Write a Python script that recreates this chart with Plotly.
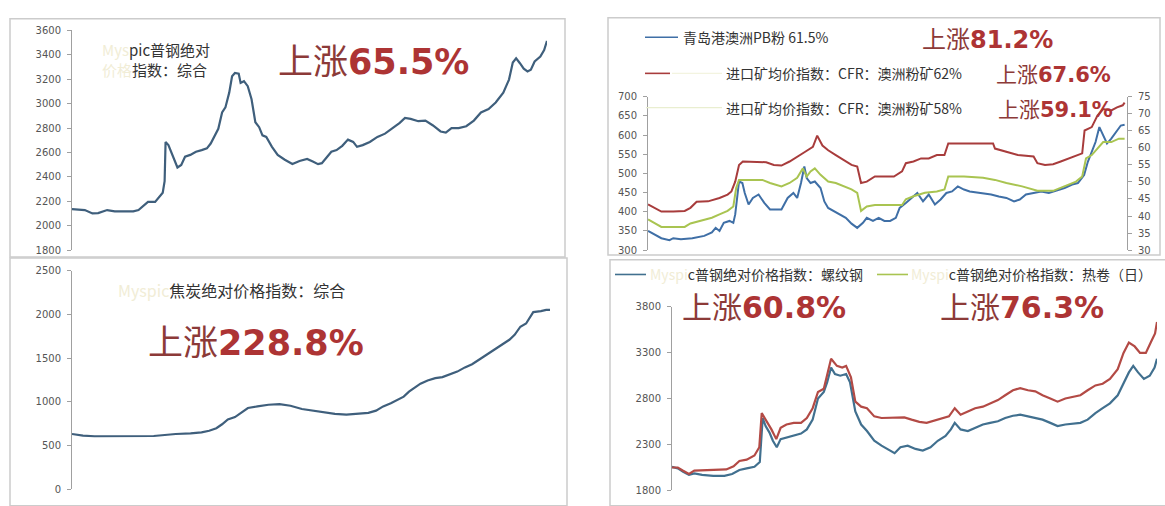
import plotly.graph_objects as go

W, H = 1165, 506

# ---------------- data ----------------
# Panel 1: Myspic 普钢绝对价格指数：综合
p1_t = [0, 2.7, 4.3, 5.5, 7.4, 9.0, 11.3, 12.9, 14.0, 14.8, 16.0, 17.5, 18.3, 19.1, 19.5, 19.7, 20.3, 21.4, 22.2, 23.0,
        23.8, 24.9, 26.1, 27.3, 28.4, 29.2, 30.0, 30.8, 31.6, 32.3, 33.1, 33.7, 34.3, 35.1, 35.5, 36.2, 37.0, 37.8, 38.6, 39.4,
        40.1, 40.9, 42.1, 43.3, 44.8, 46.4, 47.9, 49.5, 50.7, 51.8, 52.6, 53.4, 54.6, 55.7, 56.9, 58.1, 59.2, 60.0, 61.2, 62.7,
        64.3, 65.9, 67.4, 69.0, 70.1, 71.3, 72.9, 74.4, 76.0, 77.6, 78.7, 79.9, 81.4, 83.0, 84.6, 86.1, 87.7, 89.2, 90.8, 92.0,
        92.8, 93.5, 94.3, 95.1, 95.9, 96.6, 97.4, 98.6, 99.4, 100]
p1_v = [2136, 2128, 2100, 2103, 2128, 2117, 2117, 2117, 2128, 2155, 2195, 2195, 2230, 2270, 2364, 2686, 2660, 2552, 2477, 2498,
        2565, 2580, 2606, 2619, 2633, 2673, 2740, 2794, 2928, 2969, 3090, 3224, 3251, 3245, 3170, 3184, 3143, 3036, 2848, 2807,
        2740, 2727, 2646, 2580, 2540, 2506, 2530, 2547, 2525, 2504, 2512, 2547, 2606, 2619, 2654, 2705, 2686, 2646, 2660, 2686,
        2727, 2754, 2794, 2842, 2883, 2875, 2856, 2861, 2821, 2772, 2762, 2799, 2799, 2815, 2861, 2928, 2955, 3009, 3090, 3197,
        3337, 3372, 3331, 3286, 3264, 3278, 3345, 3385, 3439, 3514]

# Panel 2: iron ore
p2_blue_t = [0, 1.2, 2.8, 4.5, 5.3, 6.9, 9.3, 11.8, 13.4, 14.2, 15.0, 15.9, 17.1, 17.9, 18.3, 19.1, 19.8, 20.3, 21.1, 22.0,
             23.2, 24.4, 25.6, 26.8, 28.0, 29.3, 30.5, 31.3, 32.1, 32.8, 33.3, 34.1, 35.0, 36.2, 37.0, 37.8, 39.0, 40.2, 41.5, 42.7,
             43.9, 45.1, 45.9, 47.2, 48.4, 49.6, 50.8, 52.0, 52.8, 54.1, 55.3, 56.5, 57.7, 58.9, 60.2, 61.4, 62.6, 63.8, 65.0, 66.3,
             67.5, 68.7, 70.3, 72.0, 73.6, 75.2, 76.8, 78.0, 79.3, 80.9, 82.5, 84.1, 85.8, 87.4, 89.0, 90.2, 91.5, 92.3, 93.1, 93.9,
             94.7, 95.5, 96.3, 97.2, 98.0, 99.2, 100]
p2_blue_v = [350, 341, 331, 326, 331, 328, 331, 337, 346, 358, 350, 371, 376, 371, 393, 479, 475, 449, 419, 436,
             445, 423, 406, 406, 406, 436, 449, 436, 475, 518, 488, 475, 479, 462, 427, 410, 402, 393, 384, 369,
             358, 371, 384, 376, 384, 376, 376, 384, 410, 423, 436, 449, 427, 445, 419, 432, 449, 453, 466, 458,
             453, 451, 449, 445, 440, 436, 427, 432, 445, 449, 453, 449, 455, 462, 471, 475, 496, 531, 556, 582,
             621, 599, 578, 591, 604, 625, 627]
p2_red_t = [0, 1.2, 2.8, 5.3, 7.7, 8.9, 10.2, 12.6, 15.0, 16.7, 17.5, 18.3, 19.1, 19.9, 21.5, 24.8, 26.4, 28.0, 29.7, 31.3,
            32.9, 34.6, 35.5, 36.6, 37.8, 39.4, 41.1, 42.7, 43.9, 44.7, 45.9, 47.6, 49.2, 51.6, 53.3, 54.1, 55.7, 57.3, 58.9, 60.6,
            62.2, 63.0, 66.3, 70.3, 72.4, 72.8, 75.2, 77.6, 80.9, 81.7, 83.3, 85.0, 86.6, 88.2, 89.8, 91.1, 91.6, 93.1, 94.3, 95.5,
            97.2, 98.4, 99.6, 100]
p2_red_v = [43.4, 42.4, 41.3, 41.3, 41.5, 42.4, 44.2, 44.3, 45.3, 46.3, 47.2, 50.1, 55.0, 56.0, 56.0, 55.8, 55.0, 54.8, 56.0, 57.5,
            58.8, 60.3, 63.6, 60.7, 59.3, 57.9, 56.4, 55.0, 54.5, 49.7, 50.1, 51.6, 51.6, 51.6, 53.1, 55.5, 56.0, 56.9, 56.9, 57.9,
            57.9, 61.3, 61.3, 61.3, 61.3, 59.8, 58.8, 57.9, 57.5, 55.5, 55.0, 55.2, 56.0, 56.9, 57.9, 58.4, 65.1, 66.1, 69.5, 71.4,
            71.0, 71.9, 72.5, 73.3]
p2_green_t = [0, 1.2, 2.8, 5.3, 7.7, 8.9, 11.0, 13.4, 15.0, 16.7, 17.9, 18.5, 19.1, 21.5, 24.0, 25.6, 28.0, 29.7, 31.3, 32.5,
              33.3, 34.1, 35.0, 36.2, 37.8, 39.4, 41.1, 42.7, 43.9, 44.7, 45.9, 47.6, 50.8, 53.3, 54.1, 55.7, 58.1, 60.6, 62.2, 63.0,
              66.3, 70.3, 72.8, 75.2, 78.5, 81.7, 85.0, 87.4, 89.8, 91.1, 91.9, 93.1, 94.3, 95.5, 97.2, 98.8, 100]
p2_green_v = [39.0, 38.0, 36.8, 36.8, 36.8, 37.8, 38.6, 39.5, 40.5, 41.5, 42.8, 48.2, 50.6, 50.6, 50.6, 49.7, 48.7, 49.7, 51.2, 54.0,
              51.6, 53.1, 54.0, 52.1, 50.1, 49.7, 48.7, 47.8, 46.8, 41.5, 42.8, 43.2, 43.2, 43.2, 44.9, 45.8, 46.8, 47.2, 47.8, 51.6,
              51.6, 51.2, 50.6, 49.7, 48.7, 47.4, 47.4, 48.7, 50.1, 51.6, 56.9, 57.9, 59.8, 61.7, 61.7, 62.7, 62.7]

# Panel 3: Myspic 焦炭绝对价格指数：综合
p3_t = [0, 2.3, 4.7, 7.8, 11.6, 15.5, 17.1, 19.4, 21.7, 24.8, 27.1, 28.7, 30.2, 31.4, 32.6, 34.1, 35.7, 36.8, 38.8, 41.1,
        43.4, 45.7, 48.1, 50.4, 52.7, 55.0, 57.4, 59.7, 62.0, 63.6, 65.1, 66.7, 68.2, 69.4, 70.5, 71.7, 72.9, 74.4, 76.0, 77.5,
        79.1, 80.6, 82.2, 83.7, 85.3, 86.8, 88.4, 89.9, 91.5, 92.6, 93.8, 95.0, 95.7, 96.5, 98.1, 99.2, 100]
p3_v = [632, 613, 606, 606, 606, 606, 609, 620, 632, 639, 650, 669, 698, 743, 799, 825, 892, 929, 947, 966,
        973, 955, 918, 899, 873, 862, 854, 862, 873, 899, 947, 984, 1022, 1059, 1115, 1159, 1207, 1244, 1270, 1282,
        1319, 1345, 1393, 1430, 1486, 1542, 1597, 1653, 1709, 1765, 1858, 1895, 1950, 2025, 2036, 2051, 2051]

# Panel 4: 螺纹钢 / 热卷
p4_blue_t = [0, 1.2, 2.3, 3.5, 4.6, 6.2, 8.5, 10.8, 12.4, 13.9, 15.4, 17.0, 18.1, 18.7, 19.3, 20.1, 20.8, 21.6, 22.4, 23.6,
             25.1, 26.6, 27.8, 29.0, 30.1, 31.3, 32.0, 32.8, 33.6, 34.7, 35.9, 36.7, 37.8, 39.0, 40.2, 41.7, 43.2, 44.8, 45.9, 47.1,
             48.6, 50.2, 51.7, 53.3, 54.8, 56.4, 57.5, 58.3, 59.5, 61.0, 62.5, 64.1, 65.6, 67.2, 68.7, 70.3, 71.8, 73.4, 74.9, 76.4,
             78.0, 79.5, 81.1, 82.6, 84.2, 85.7, 87.3, 88.8, 90.3, 91.9, 93.1, 94.2, 95.1, 96.1, 97.3, 98.5, 99.5, 100]
p4_blue_v = [2055, 2038, 2002, 1967, 1984, 1967, 1956, 1956, 1977, 2020, 2038, 2055, 2108, 2587, 2499, 2428, 2339, 2268, 2357, 2374,
             2392, 2417, 2463, 2569, 2800, 2871, 2977, 3137, 3066, 3048, 3066, 2977, 2658, 2516, 2445, 2339, 2286, 2233, 2204, 2268,
             2286, 2250, 2233, 2268, 2339, 2392, 2463, 2534, 2463, 2445, 2481, 2516, 2534, 2552, 2587, 2612, 2623, 2605, 2587, 2569,
             2534, 2499, 2516, 2523, 2534, 2569, 2640, 2694, 2747, 2835, 2960, 3084, 3155, 3084, 3013, 3048, 3137, 3233]
p4_red_t = [0, 1.2, 2.3, 3.5, 4.6, 6.9, 9.3, 11.2, 12.7, 13.9, 15.4, 17.0, 18.0, 18.5, 19.3, 20.5, 21.5, 22.4, 23.6, 25.1,
            26.6, 27.8, 29.0, 30.1, 31.3, 32.0, 32.8, 34.0, 35.1, 35.9, 36.9, 37.8, 39.0, 40.2, 41.7, 43.2, 44.8, 46.3, 47.9, 49.4,
            51.0, 52.5, 54.1, 55.6, 57.1, 58.3, 59.5, 61.0, 62.5, 64.1, 65.6, 67.2, 68.7, 70.3, 71.8, 73.4, 74.9, 76.4, 78.0, 79.5,
            81.1, 82.6, 84.2, 85.7, 87.3, 88.8, 90.3, 91.9, 93.1, 94.2, 95.4, 96.5, 97.7, 98.8, 99.6, 100]
p4_red_v = [2048, 2048, 2013, 1977, 2013, 2020, 2020, 2027, 2062, 2119, 2133, 2179, 2268, 2640, 2569, 2463, 2357, 2481, 2516, 2534,
            2534, 2587, 2694, 2871, 2906, 3048, 3233, 3155, 3137, 3155, 3030, 2765, 2711, 2694, 2605, 2587, 2587, 2587, 2594, 2569,
            2545, 2534, 2559, 2587, 2605, 2694, 2623, 2658, 2694, 2711, 2747, 2782, 2835, 2889, 2913, 2889, 2878, 2835, 2800, 2765,
            2800, 2818, 2835, 2889, 2942, 2960, 3013, 3119, 3296, 3410, 3367, 3296, 3296, 3420, 3509, 3633]

# tick settings
p1_ticks = [1800, 2000, 2200, 2400, 2600, 2800, 3000, 3200, 3400, 3600]
p2_left_ticks = [300, 350, 400, 450, 500, 550, 600, 650, 700]
p2_right_ticks = [30, 35, 40, 45, 50, 55, 60, 65, 70, 75]
p3_ticks = [0, 500, 1000, 1500, 2000, 2500]
p4_ticks = [1800, 2300, 2800, 3300, 3800]

# ---------------- styling ----------------
C_P1 = "#3f5f7c"
C_BLUE = "#3f6fa6"
C_RED = "#a83c3c"
C_GREEN = "#a9c451"
C_P4_BLUE = "#41708f"
C_P4_RED = "#b34a45"
TXT_RED = "#ad3434"
TXT_DARK = "#8c3a38"
CJK = "Noto Sans CJK SC, DejaVu Sans, sans-serif"
NUM = "DejaVu Sans, sans-serif"


def px(x):
    return x / W


def py(y):
    return 1 - y / H


fig = go.Figure()

fig.add_trace(go.Scatter(x=p1_t, y=p1_v, mode="lines", line=dict(color=C_P1, width=2.2), xaxis="x", yaxis="y"))
fig.add_trace(go.Scatter(x=p2_blue_t, y=p2_blue_v, mode="lines", line=dict(color=C_BLUE, width=2), xaxis="x2", yaxis="y2"))
fig.add_trace(go.Scatter(x=p2_green_t, y=p2_green_v, mode="lines", line=dict(color=C_GREEN, width=2), xaxis="x2", yaxis="y5"))
fig.add_trace(go.Scatter(x=p2_red_t, y=p2_red_v, mode="lines", line=dict(color=C_RED, width=2), xaxis="x2", yaxis="y5"))
fig.add_trace(go.Scatter(x=p3_t, y=p3_v, mode="lines", line=dict(color=C_P1, width=2.2), xaxis="x3", yaxis="y3"))
fig.add_trace(go.Scatter(x=p4_blue_t, y=p4_blue_v, mode="lines", line=dict(color=C_P4_BLUE, width=2.2), xaxis="x4", yaxis="y4"))
fig.add_trace(go.Scatter(x=p4_red_t, y=p4_red_v, mode="lines", line=dict(color=C_P4_RED, width=2.2), xaxis="x4", yaxis="y4"))

tickfont = dict(family=NUM, size=10, color="#555555")
yax_common = dict(showgrid=False, zeroline=False, showline=True, linecolor="#a0a0a0", linewidth=1,
                  ticks="outside", ticklen=4, tickcolor="#a0a0a0", tickfont=tickfont, fixedrange=True,
                  ticklabelstandoff=4)
xax_common = dict(visible=False, fixedrange=True)

layout = dict(
    width=W, height=H, margin=dict(l=0, r=0, t=0, b=0),
    paper_bgcolor="white", plot_bgcolor="rgba(0,0,0,0)", showlegend=False,
    xaxis=dict(domain=[px(72), px(547)], range=[0, 100], anchor="y", **xax_common),
    yaxis=dict(domain=[py(250), py(25)], range=[1800, 3600], tickvals=p1_ticks, anchor="x", **yax_common),
    xaxis2=dict(domain=[px(648), px(1127)], range=[0, 100.5], anchor="y2", **xax_common),
    yaxis2=dict(domain=[py(250), py(93)], range=[300, 700], tickvals=p2_left_ticks, anchor="x2", **yax_common),
    yaxis5=dict(range=[30, 75], tickvals=p2_right_ticks, overlaying="y2", side="right", anchor="x2", **yax_common),
    xaxis3=dict(domain=[px(72), px(550)], range=[0, 100], anchor="y3", **xax_common),
    yaxis3=dict(domain=[py(495), py(271)], range=[0, 2500], tickvals=p3_ticks, anchor="x3", **yax_common),
    xaxis4=dict(domain=[px(672), px(1157)], range=[0, 100], anchor="y4", **xax_common),
    yaxis4=dict(domain=[py(496), py(308)], range=[1800, 3800], tickvals=p4_ticks, anchor="x4", **yax_common),
)
fig.update_layout(**layout)

# ---------------- frames ----------------
shapes = []
frame_style = dict(color="#cccccc", width=1.5)
for (x0, y0, x1, y1) in [(10, 13, 565, 257), (608, 12, 1160, 255), (10, 258, 567, 512), (610, 260, 1172, 512)]:
    shapes.append(dict(type="rect", xref="paper", yref="paper", x0=px(x0), x1=px(x1), y0=py(y1), y1=py(y0),
                       line=frame_style, fillcolor="rgba(0,0,0,0)", layer="below"))


# legend key lines
def key(x0, x1, y, color, width=1.6):
    shapes.append(dict(type="line", xref="paper", yref="paper", x0=px(x0), x1=px(x1), y0=py(y), y1=py(y),
                       line=dict(color=color, width=width)))


key(645, 678, 32, C_BLUE)
key(645, 670, 69, C_RED)
key(672, 722, 69, "#f3f4e0", 1.2)
key(646, 722, 104, "#e9eed0", 1.2)
key(615, 646, 275, C_P4_BLUE)
key(877, 908, 275, C_GREEN)
fig.update_layout(shapes=shapes)

# ---------------- texts ----------------
ann = []


def text(x, y, s, size, color="#333333", family=CJK, anchor="left"):
    ann.append(dict(xref="paper", yref="paper", x=px(x), y=py(y), text=s, showarrow=False,
                    xanchor=anchor, yanchor="middle", font=dict(family=family, size=size, color=color)))


FADE = "#f1edd6"


def big(x, y, pct, size):
    s = ('<span style="color:%s">上涨</span><span style="font-family:DejaVu Sans;font-weight:bold">%s</span>'
         % (TXT_DARK, pct))
    text(x, y, s, size, color=TXT_RED)


# panel 1
text(100, 45, '<span style="color:%s">Mys</span>pic普钢绝对' % FADE, 15)
text(100, 65, '<span style="color:%s">价格</span>指数：综合' % FADE, 15)
big(276, 54, "65.5%", 35)

# panel 2
text(681, 32, "青岛港澳洲PB粉 61.5%", 14)
text(724, 69, "进口矿均价指数：CFR：澳洲粉矿62%", 14)
text(724, 104, "进口矿均价指数：CFR：澳洲粉矿58%", 14)
big(920, 32, "81.2%", 24)
big(994, 69, "67.6%", 21)
big(996, 104, "59.1%", 21)

# panel 3
text(116, 291, '<span style="color:%s">Myspic</span>焦炭绝对价格指数：综合' % FADE, 16)
big(146, 342, "228.8%", 35)

# panel 4
text(648, 275, '<span style="color:%s">Myspi</span>c普钢绝对价格指数：螺纹钢' % FADE, 14)
text(909, 275, '<span style="color:%s">Myspi</span>c普钢绝对价格指数：热卷（日）' % FADE, 14)
big(680, 306, "60.8%", 30)
big(938, 306, "76.3%", 30)

fig.update_layout(annotations=ann)

fig.write_html("out.html")
